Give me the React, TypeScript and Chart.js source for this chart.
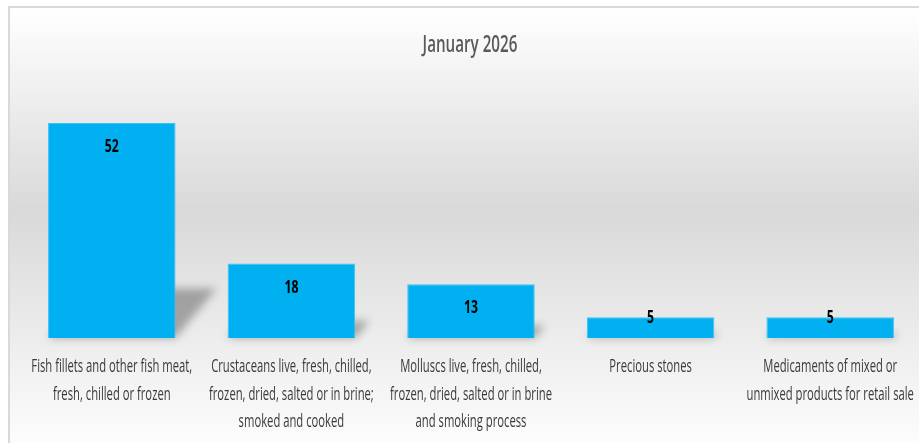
import React, { useEffect, useRef } from "react";
import { Chart, registerables } from "chart.js";

Chart.register(...registerables);

const chartTitle = "January 2026";
const categories: string[][] = [
  ["Fish fillets and other fish meat,", "fresh, chilled or frozen"],
  ["Crustaceans live, fresh, chilled,", "frozen, dried, salted or in brine;", "smoked and cooked"],
  ["Molluscs live, fresh, chilled,", "frozen, dried, salted or in brine", "and smoking process"],
  ["Precious stones"],
  ["Medicaments of mixed or", "unmixed products for retail sale"],
];
const values = [52, 18, 13, 5, 5];
const yMax = 60;

const FONT = "'Open Sans', sans-serif";
const BAR_COLOR = "#00B0F0";
const LABEL_SIZE = 18;
const LABEL_SQUEEZE = 0.625;
const LINE_GAP = 27.5;

const backgroundPlugin = {
  id: "bgFrame",
  beforeDraw(chart: any) {
    const { ctx, width, height } = chart;
    ctx.save();
    ctx.fillStyle = "#ffffff";
    ctx.fillRect(0, 0, width, height);
    const x0 = 9, y0 = 7, x1 = width - 9, y1 = 460;
    const g = ctx.createLinearGradient(0, y0, 0, y1);
    g.addColorStop(0, "#ffffff");
    g.addColorStop(0.45, "#d9d9d9");
    g.addColorStop(1, "#ffffff");
    ctx.fillStyle = g;
    ctx.fillRect(x0, y0, x1 - x0, y1 - y0);
    ctx.strokeStyle = "#d9d9d9";
    ctx.lineWidth = 2;
    ctx.strokeRect(x0, y0, x1 - x0, y1 - y0);
    ctx.restore();
  },
};

function squeezedText(ctx: any, text: string, x: number, y: number, squeeze: number) {
  ctx.save();
  ctx.translate(x, y);
  ctx.scale(squeeze, 1);
  ctx.fillText(text, 0, 0);
  ctx.restore();
}

const textPlugin = {
  id: "texts",
  afterDraw(chart: any) {
    const { ctx, chartArea } = chart;
    const xScale = chart.scales.x;
    ctx.save();
    ctx.textAlign = "center";
    ctx.textBaseline = "middle";
    // title
    ctx.fillStyle = "#595959";
    ctx.font = `600 23px ${FONT}`;
    squeezedText(ctx, chartTitle, (chartArea.left + chartArea.right) / 2 - 1, 45, 0.66);
    // category labels
    ctx.fillStyle = "#3a3a3a";
    ctx.font = `${LABEL_SIZE}px ${FONT}`;
    categories.forEach((lines, i) => {
      const x = xScale.getPixelForValue(i);
      lines.forEach((line, j) => {
        squeezedText(ctx, line, x, chartArea.bottom + 29 + j * LINE_GAP, LABEL_SQUEEZE);
      });
    });
    ctx.restore();
  },
};

const shadowPlugin = {
  id: "barShadow",
  beforeDatasetsDraw(chart: any) {
    const { ctx } = chart;
    const meta = chart.getDatasetMeta(0);
    ctx.save();
    ctx.filter = "blur(4px)";
    ctx.fillStyle = "rgba(0,0,0,0.3)";
    meta.data.forEach((el: any) => {
      const { x, y, base, width } = el.getProps(["x", "y", "base", "width"], true);
      const h = base - y;
      const left = x - width / 2;
      const right = x + width / 2;
      const dx = 0.19 * h;
      const dy = 0.23 * h;
      ctx.beginPath();
      ctx.moveTo(left, base);
      ctx.lineTo(right, base);
      ctx.lineTo(right + dx, base - dy);
      ctx.lineTo(left + dx, base - dy);
      ctx.closePath();
      ctx.fill();
    });
    ctx.restore();
  },
};

const valueLabelPlugin = {
  id: "valueLabels",
  afterDatasetsDraw(chart: any) {
    const { ctx } = chart;
    const meta = chart.getDatasetMeta(0);
    const data = chart.data.datasets[0].data;
    ctx.save();
    ctx.fillStyle = "#000000";
    ctx.font = `bold 18px ${FONT}`;
    ctx.textAlign = "center";
    ctx.textBaseline = "middle";
    meta.data.forEach((el: any, i: number) => {
      const { x, y, base } = el.getProps(["x", "y", "base"], true);
      const ly = Math.min(y + 24, base - 20);
      squeezedText(ctx, String(data[i]), x, ly, 0.68);
    });
    ctx.restore();
  },
};

export default function App() {
  const canvasRef = useRef<HTMLCanvasElement | null>(null);

  useEffect(() => {
    if (!canvasRef.current) return;
    const chart = new Chart(canvasRef.current, {
      type: "bar",
      data: {
        labels: categories.map((c) => c.join(" ")),
        datasets: [
          {
            data: values,
            backgroundColor: BAR_COLOR,
            borderColor: "#3fc1f2",
            borderWidth: 1,
            barPercentage: 0.71,
            categoryPercentage: 1,
          },
        ],
      },
      options: {
        animation: false,
        responsive: false,
        maintainAspectRatio: false,
        layout: { padding: { left: 22, right: 17, top: 90, bottom: 0 } },
        plugins: {
          legend: { display: false },
          tooltip: { enabled: false },
          title: { display: false },
        },
        scales: {
          x: {
            grid: { display: false, drawTicks: false },
            border: { display: false },
            ticks: { display: false },
            afterFit(scale: any) {
              scale.height = 105;
            },
          },
          y: {
            display: false,
            min: 0,
            max: yMax,
          },
        },
      },
      plugins: [backgroundPlugin, shadowPlugin, valueLabelPlugin, textPlugin],
    });
    return () => chart.destroy();
  }, []);

  return (
    <div style={{ position: "fixed", left: 0, top: 0, width: 919, height: 443, overflow: "hidden", background: "#fff" }}>
      <canvas ref={canvasRef} width={937} height={443} style={{ display: "block", width: 937, height: 443 }} />
    </div>
  );
}
